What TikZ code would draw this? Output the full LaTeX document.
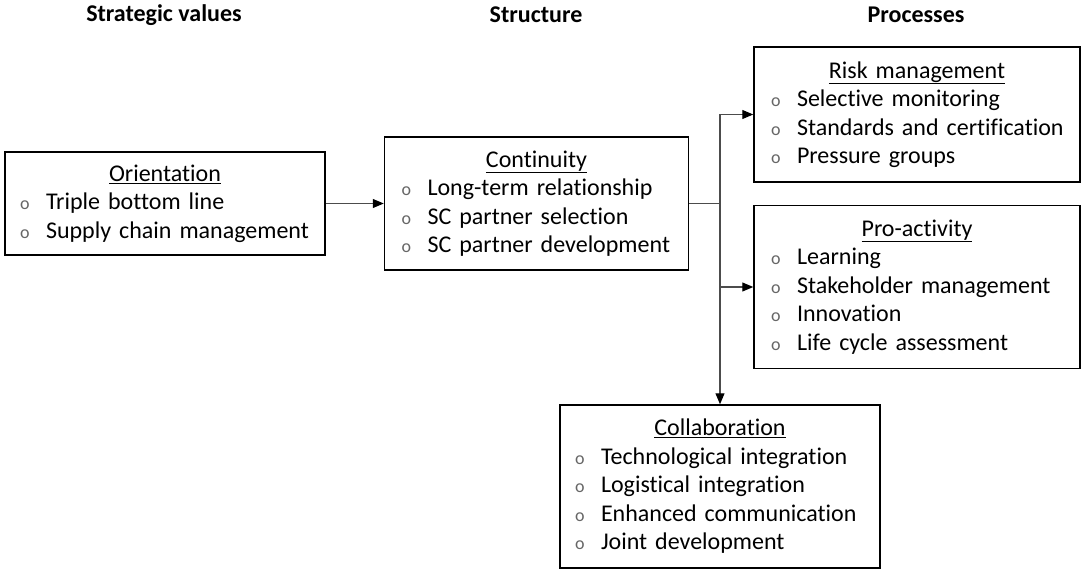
\documentclass[tikz,border=0pt]{standalone}
\usepackage{fontspec}
\setmainfont{Carlito}[Ligatures={NoCommon}]
\usetikzlibrary{positioning, arrows.meta}

\newcommand{\blt}{\makebox[26pt][l]{\color{black!60}\fontsize{18}{18}\selectfont o}}
\newcommand{\boxtitle}[1]{\makebox[\hsize]{\underline{#1}}\\}

\begin{document}
\begin{tikzpicture}[
    x=1pt, y=-1pt,
    font=\fontsize{24}{28.5}\selectfont,
    >={Triangle[length=11pt, width=9pt, color=black]},
    block/.style={draw, line width=1.5pt, inner xsep=12pt, inner ysep=0pt, align=left,
        execute at begin node={\hyphenpenalty=10000\hfuzz=20pt}},
    heading/.style={font=\bfseries\fontsize{24}{28.5}\selectfont},
    link/.style={draw=black!70, line width=1.1pt},
    arrow/.style={link, ->}
]
\useasboundingbox (0,0) rectangle (1081,569);

% Column headings
\node[heading] (h_values) at (164,15) {Strategic values};
\node[heading] (h_structure) at (536,15) {Structure};
\node[heading] (h_processes) at (916,15) {Processes};

% Strategic values
\node[block, text width=296pt, minimum height=103pt] (orient) at (165,203.5) {\boxtitle{Orientation}
\hspace*{3pt}\blt Triple bottom line\\
\hspace*{3pt}\blt Supply chain management};

% Structure
\node[block, text width=280pt, minimum height=133pt, right=58pt of orient] (cont) {\boxtitle{Continuity}
\hspace*{5pt}\blt Long-term relationship\\
\hspace*{5pt}\blt SC partner selection\\
\hspace*{5pt}\blt SC partner development};

% Processes
\node[block, text width=302pt, minimum height=135pt] (risk) at (917,114.5) {\boxtitle{Risk management}
\hspace*{5pt}\blt Selective monitoring\\
\hspace*{5pt}\blt Standards and certification\\
\hspace*{5pt}\blt Pressure groups};

\node[block, text width=302pt, minimum height=163pt, below=22pt of risk] (pro) {\boxtitle{Pro-activity}
\hspace*{5pt}\blt Learning\\
\hspace*{5pt}\blt Stakeholder management\\
\hspace*{5pt}\blt Innovation\\
\hspace*{5pt}\blt Life cycle assessment};

\node[block, text width=296pt, minimum height=163pt] (collab) at (720,486.5) {\boxtitle{Collaboration}
\hspace*{3pt}\blt Technological integration\\
\hspace*{3pt}\blt Logistical integration\\
\hspace*{3pt}\blt Enhanced communication\\
\hspace*{3pt}\blt Joint development};

% Connectors
\coordinate (split) at (cont.east -| collab.north);
\draw[arrow] (orient) -- (cont);
\draw[link] (cont.east) -- (split);
\draw[arrow] (split) |- (risk.west);
\draw[arrow] (split) |- (pro.west);
\draw[arrow] (split) -- (collab.north);

\end{tikzpicture}
\end{document}
